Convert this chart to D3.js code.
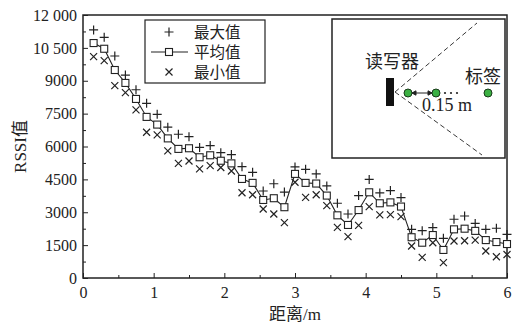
<!DOCTYPE html>
<html>
<head>
<meta charset="utf-8">
<script src="https://cdn.jsdelivr.net/npm/d3@7"></script>
<style>
  body { margin: 0; background: #fff; }
  svg { display: block; }
  .num { font-family: "Liberation Serif", "DejaVu Serif", serif; }
  .cjk { font-family: "Noto Sans CJK SC", sans-serif; }
</style>
</head>
<body>
<div id="chart"></div>
<script>
// distance in m, step 0.15 m
const distances = [0.15, 0.30, 0.45, 0.60, 0.75, 0.90, 1.05, 1.20, 1.35, 1.50,
                   1.65, 1.80, 1.95, 2.10, 2.25, 2.40, 2.55, 2.70, 2.85, 3.00,
                   3.15, 3.30, 3.45, 3.60, 3.75, 3.90, 4.05, 4.20, 4.35, 4.50,
                   4.65, 4.80, 4.95, 5.10, 5.25, 5.40, 5.55, 5.70, 5.85, 6.00];
const maxValues = [11320, 10980, 10130, 9260, 8590, 7970, 7470, 6880, 6560, 6450,
                   5960, 6040, 5720, 5630, 5080, 4820, 3970, 4300, 3920, 5070,
                   4960, 4750, 4200, 3410, 2920, 3760, 4500, 3880, 3990, 3670,
                   2220, 2160, 2300, 1810, 2680, 2830, 2490, 2220, 2270, 1990];
const avgValues = [10720, 10460, 9490, 8900, 8170, 7350, 7000, 6370, 5890, 5920,
                   5510, 5600, 5350, 5230, 4520, 4340, 3560, 3640, 3230, 4750,
                   4340, 4310, 3760, 2860, 2420, 3100, 3910, 3410, 3450, 3260,
                   1860, 1610, 1960, 1280, 2220, 2250, 2150, 1730, 1640, 1550];
const minValues = [10100, 9920, 8780, 8460, 7670, 6650, 6530, 5800, 5230, 5340,
                   4980, 5130, 5040, 4880, 3890, 3800, 3150, 2920, 2530, 4370,
                   3680, 3800, 3300, 2310, 1890, 2400, 3260, 2880, 2890, 2800,
                   1460, 940, 1610, 700, 1690, 1700, 1730, 1230, 970, 1070];
const xTicks = [0, 1, 2, 3, 4, 5, 6];
const yTicks = [0, 1500, 3000, 4500, 6000, 7500, 9000, 10500, 12000];
const legendLabels = ["最大值", "平均值", "最小值"];

const W = 513, H = 328;
const margin = { top: 15, right: 6, bottom: 50, left: 83 };
const ink = "#222";

const svg = d3.select("#chart").append("svg")
    .attr("width", W).attr("height", H);

const x = d3.scaleLinear().domain([0, 6]).range([margin.left, W - margin.right]);
const y = d3.scaleLinear().domain([0, 12000]).range([H - margin.bottom, margin.top]);

const fmtY = v => v >= 10000 ? d3.format(",")(v).replace(",", " ") : String(v);

// minor ticks
svg.append("g")
    .attr("transform", `translate(0,${y(0)})`)
    .call(d3.axisBottom(x).tickValues(d3.range(0.5, 6, 1)).tickSize(-3).tickFormat(""))
    .call(g => g.select(".domain").remove())
    .selectAll("line").attr("stroke", ink);
svg.append("g")
    .attr("transform", `translate(${x(0)},0)`)
    .call(d3.axisLeft(y).tickValues(d3.range(750, 12000, 1500)).tickSize(-3).tickFormat(""))
    .call(g => g.select(".domain").remove())
    .selectAll("line").attr("stroke", ink);

// major ticks
const xAxis = svg.append("g")
    .attr("transform", `translate(0,${y(0)})`)
    .call(d3.axisBottom(x).tickValues(xTicks).tickSize(-5).tickPadding(9).tickFormat(d3.format("d")));
xAxis.select(".domain").remove();
xAxis.selectAll("line").attr("stroke", ink);
xAxis.selectAll("text").attr("class", "num").attr("font-size", 16).attr("fill", ink);

const yAxis = svg.append("g")
    .attr("transform", `translate(${x(0)},0)`)
    .call(d3.axisLeft(y).tickValues(yTicks).tickSize(-5).tickPadding(6).tickFormat(fmtY));
yAxis.select(".domain").remove();
yAxis.selectAll("line").attr("stroke", ink);
yAxis.selectAll("text").attr("class", "num").attr("font-size", 16).attr("fill", ink);

// frame
svg.append("rect")
    .attr("x", x(0)).attr("y", y(12000))
    .attr("width", x(6) - x(0)).attr("height", y(0) - y(12000))
    .attr("fill", "none").attr("stroke", ink).attr("stroke-width", 1.5);

// axis titles
svg.append("text")
    .attr("x", (x(0) + x(6)) / 2).attr("y", 320)
    .attr("text-anchor", "middle").attr("font-size", 17).attr("fill", ink)
    .call(t => {
      t.append("tspan").attr("class", "cjk").text("距离");
      t.append("tspan").attr("class", "num").text("/m");
    });
svg.append("text")
    .attr("transform", `translate(26,${(y(0) + y(12000)) / 2}) rotate(-90)`)
    .attr("text-anchor", "middle").attr("font-size", 17).attr("fill", ink)
    .call(t => {
      t.append("tspan").attr("class", "num").text("RSSI");
      t.append("tspan").attr("class", "cjk").text("值");
    });

// marker helpers
function plus(g, cx, cy, r) {
  g.append("path")
    .attr("d", `M${cx - r},${cy}H${cx + r}M${cx},${cy - r}V${cy + r}`)
    .attr("stroke", ink).attr("stroke-width", 1.2).attr("fill", "none");
}
function cross(g, cx, cy, r) {
  g.append("path")
    .attr("d", `M${cx - r},${cy - r}L${cx + r},${cy + r}M${cx - r},${cy + r}L${cx + r},${cy - r}`)
    .attr("stroke", ink).attr("stroke-width", 1.2).attr("fill", "none");
}
function square(g, cx, cy, s) {
  g.append("rect")
    .attr("x", cx - s / 2).attr("y", cy - s / 2).attr("width", s).attr("height", s)
    .attr("fill", "#fff").attr("stroke", ink).attr("stroke-width", 1.1);
}

const marks = svg.append("g");

// average line
const line = d3.line().x((d, i) => x(distances[i])).y(d => y(d));
marks.append("path")
    .attr("d", line(avgValues))
    .attr("fill", "none").attr("stroke", ink).attr("stroke-width", 1.1);

distances.forEach((d, i) => {
  plus(marks, x(d), y(maxValues[i]), 4.5);
  cross(marks, x(d), y(minValues[i]), 3.5);
});
distances.forEach((d, i) => square(marks, x(d), y(avgValues[i]), 7));

// legend
const legend = svg.append("g");
legend.append("rect")
    .attr("x", 145).attr("y", 20).attr("width", 120).attr("height", 63)
    .attr("fill", "#fff").attr("stroke", ink).attr("stroke-width", 1.2);
const rowY = [32, 52, 72];
plus(legend, 169, rowY[0], 4.5);
legend.append("line")
    .attr("x1", 151).attr("x2", 188).attr("y1", rowY[1]).attr("y2", rowY[1])
    .attr("stroke", ink).attr("stroke-width", 1.1);
square(legend, 169, rowY[1], 7);
cross(legend, 169, rowY[2], 3.5);
legend.selectAll("text.lab")
    .data(legendLabels)
    .join("text")
    .attr("class", "cjk lab")
    .attr("x", 194).attr("y", (d, i) => rowY[i])
    .attr("dy", "0.36em")
    .attr("font-size", 15.5).attr("fill", ink)
    .text(d => d);

// inset sketch
const inset = svg.append("g");
inset.append("rect")
    .attr("x", 332).attr("y", 19).attr("width", 173).attr("height", 139)
    .attr("fill", "#fff").attr("stroke", ink).attr("stroke-width", 1.5);
inset.append("path")
    .attr("d", "M395,92L477,23M395,92L482,155")
    .attr("stroke", ink).attr("stroke-width", 0.9).attr("stroke-dasharray", "5,3").attr("fill", "none");
inset.append("rect")
    .attr("x", 386).attr("y", 78).attr("width", 8).attr("height", 28).attr("fill", "#111");
inset.append("text")
    .attr("class", "cjk").attr("x", 392).attr("y", 62).attr("dy", "0.36em")
    .attr("text-anchor", "middle").attr("font-size", 18).attr("fill", ink).text("读写器");
inset.append("text")
    .attr("class", "cjk").attr("x", 483).attr("y", 77).attr("dy", "0.36em")
    .attr("text-anchor", "middle").attr("font-size", 18).attr("fill", ink).text("标签");
// double arrow
inset.append("path")
    .attr("d", "M412,93H432M412,93l4,-2.2v4.4zM432,93l-4,-2.2v4.4z")
    .attr("stroke", ink).attr("stroke-width", 1).attr("fill", ink);
[445, 451, 457].forEach(cx => inset.append("circle")
    .attr("cx", cx).attr("cy", 93).attr("r", 1.1).attr("fill", ink));
[408, 436, 488].forEach(cx => inset.append("circle")
    .attr("cx", cx).attr("cy", 93).attr("r", 4)
    .attr("fill", "#3cb043").attr("stroke", "#1a3a1a").attr("stroke-width", 1));
inset.append("text")
    .attr("class", "num").attr("x", 447).attr("y", 105).attr("dy", "0.36em")
    .attr("text-anchor", "middle").attr("font-size", 18).attr("fill", ink).text("0.15 m");
</script>
</body>
</html>
